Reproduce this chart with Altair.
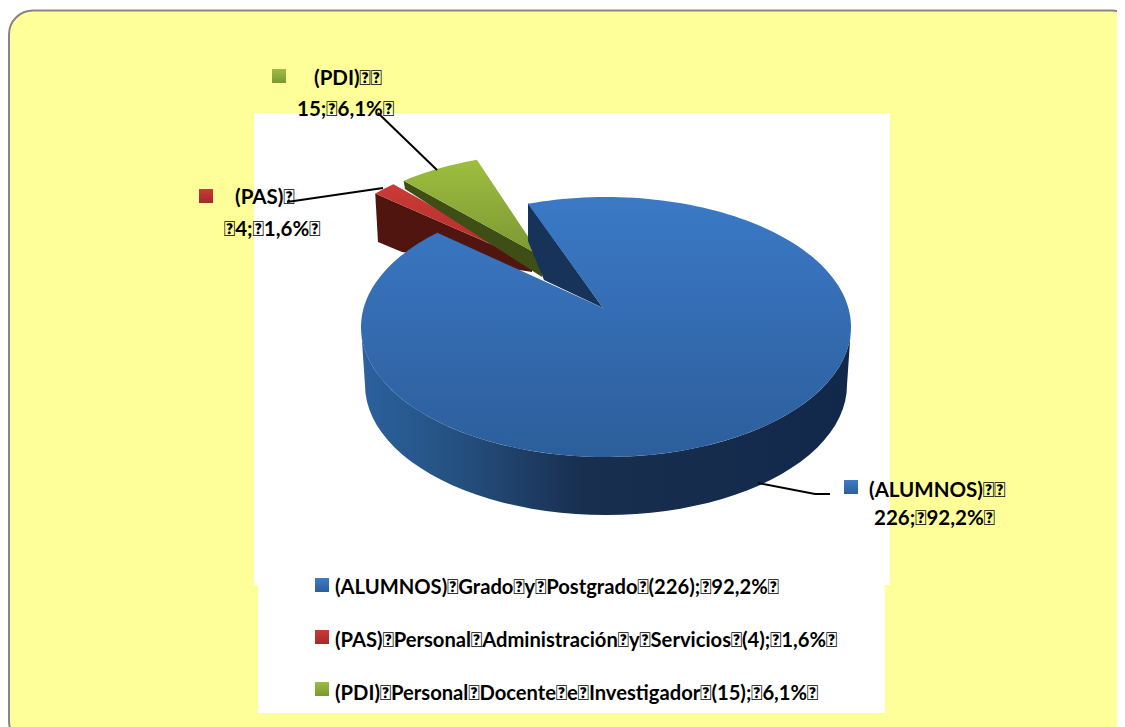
import math
import altair as alt
import pandas as pd

# ---- data
categories = ["ALUMNOS", "PAS", "PDI"]
values = [226, 4, 15]
BOX = "\ue000"
label_lines = [f"(ALUMNOS){BOX}{BOX}", f"226;{BOX}92,2%{BOX}",
               f"(PAS){BOX}", f"{BOX}4;{BOX}1,6%{BOX}",
               f"(PDI){BOX}{BOX}", f"15;{BOX}6,1%{BOX}"]
legend_lines = [f"(ALUMNOS){BOX}Grado{BOX}y{BOX}Postgrado{BOX}(226);{BOX}92,2%{BOX}",
                f"(PAS){BOX}Personal{BOX}Administración{BOX}y{BOX}Servicios{BOX}(4);{BOX}1,6%{BOX}",
                f"(PDI){BOX}Personal{BOX}Docente{BOX}e{BOX}Investigador{BOX}(15);{BOX}6,1%{BOX}"]

# ---- layout (page pixels)
W, H = 1109, 719
CX, CY, RX, RY = 606, 327, 245, 130
DEPTH = 58
START = -18.6
xs = alt.Scale(domain=[8, 8 + W], range=[0, W])
ys = alt.Scale(domain=[8 + H, 8], range=[H, 0])
X = alt.X("x:Q", scale=xs, axis=None)
Y = alt.Y("y:Q", scale=ys, axis=None)
X2 = alt.X2("x2:Q")
Y2 = alt.Y2("y2:Q")


def grad_v(a, b):
    return alt.Gradient(gradient="linear", x1=0, y1=0, x2=0, y2=1,
                        stops=[alt.GradientStop(offset=0, color=a), alt.GradientStop(offset=1, color=b)])


def grad_h(stops):
    return alt.Gradient(gradient="linear", x1=0, y1=0, x2=1, y2=0,
                        stops=[alt.GradientStop(offset=o, color=c) for o, c in stops])


def arc(a0, a1, ox=0, oy=0, rx=RX, ry=RY, n=50):
    return [(CX + ox + rx * math.sin(math.radians(a0 + (a1 - a0) * i / n)),
             CY + oy - ry * math.cos(math.radians(a0 + (a1 - a0) * i / n))) for i in range(n + 1)]


def poly(points, fill):
    df = pd.DataFrame({"x": [p[0] for p in points], "y": [p[1] for p in points], "i": range(len(points))})
    return alt.Chart(df).mark_line(fill=fill, strokeOpacity=0, interpolate="linear").encode(
        x=X, y=Y, order=alt.Order("i:Q"))


def rect(x, x2, y, y2, **kw):
    return alt.Chart(pd.DataFrame({"x": [x], "x2": [x2], "y": [y], "y2": [y2]})).mark_rect(**kw).encode(
        x=X, x2=X2, y=Y, y2=Y2)


total = sum(values)
spans = [v / total * 360 for v in values]
b0, b1 = START, START + spans[0]
r0, r1 = b1 - 360, b1 - 360 + spans[1]
g0, g1 = r1, r1 + spans[2]

layers = []
# frame and white panels
layers.append(rect(9, 1136, 10.5, 745, fill="#FFFF99", stroke="#868686", strokeWidth=2, cornerRadius=24))
layers.append(rect(254, 890, 113, 585, fill="#FFFFFF"))
layers.append(rect(258, 885, 585, 713, fill="#FFFFFF"))

# exploded red slice
r_apex = (532, 262)
red_arc = arc(r0, r1, -53, -44, n=12)
layers.append(poly([red_arc[0], (378, 242), (402, 252), (532, 272), r_apex], "#50150F"))
layers.append(poly([r_apex] + red_arc, grad_v("#CB3A36", "#B02E2A")))
# exploded green slice
g_apex = (541, 256)
green_arc = arc(g0 + 2.5, g1, -51, -44, n=20)
layers.append(poly([green_arc[0], (405, 189), (542, 277), g_apex], "#3E4E14"))
layers.append(poly([g_apex] + green_arc, grad_v("#9DBE3E", "#7C9733")))

# blue slice
apex = (603, 308)
layers.append(poly([(528, 203), apex, (544, 280), (528, 241)], "#173359"))
wall = arc(90, 270, 0, 0) + arc(270, 90, 0, DEPTH, rx=241)
layers.append(poly(wall, grad_h([(0, "#2C619E"), (0.2, "#24507F"), (0.45, "#182F50"), (1, "#12284A")])))
layers.append(poly([apex] + arc(b0, b1 + 3, n=200), grad_v("#3B79C6", "#2C5E9B")))

# leader lines
for pts in ([(378, 113), (437, 170)], [(287, 202), (383, 188)], [(758, 483), (815, 494), (830, 494)]):
    df = pd.DataFrame({"x": [p[0] for p in pts], "y": [p[1] for p in pts], "i": range(len(pts))})
    layers.append(alt.Chart(df).mark_line(color="#000000", strokeWidth=2).encode(x=X, y=Y, order=alt.Order("i:Q")))

# swatches
cols = [("#3F7CC8", "#2C5E9B"), ("#CB3A36", "#A32B28"), ("#9DBE3E", "#7C9733")]
label_sw = [(844, 480), (199, 189), (272, 69)]
legend_sw = [(315, 578), (315, 630), (315, 682)]
for (a, b), (sx, sy), (lx, ly) in zip(cols, label_sw, legend_sw):
    layers.append(rect(sx, sx + 14, sy, sy + 14, fill=grad_v(a, b)))
    layers.append(rect(lx, lx + 14, ly, ly + 14, fill=grad_v(a, b)))

# text
label_x = [869, 874, 235, 224, 314, 297]
label_y = [497, 525, 204, 236, 85, 116]
legend_x = [335, 335, 335]
legend_y = [594, 647, 700]
label_df = pd.DataFrame({"x": label_x, "y": label_y, "t": label_lines})
legend_df = pd.DataFrame({"x": legend_x, "y": legend_y, "t": legend_lines})
layers.append(alt.Chart(label_df).mark_text(align="left", baseline="alphabetic", font="Lato", fontWeight="bold",
                                            fontSize=20.5, color="#000000").encode(x=X, y=Y, text="t:N"))
layers.append(alt.Chart(legend_df).mark_text(align="left", baseline="alphabetic", font="Lato", fontWeight="bold",
                                             fontSize=20.2, color="#000000").encode(x=X, y=Y, text="t:N"))

chart = alt.layer(*layers).properties(
    width=W, height=H, padding=0, background="#FFFFFF", autosize=alt.AutoSizeParams(type="none"),
).configure_view(stroke=None)

chart.save("out.html", embed_options={"renderer": "svg", "actions": False})
